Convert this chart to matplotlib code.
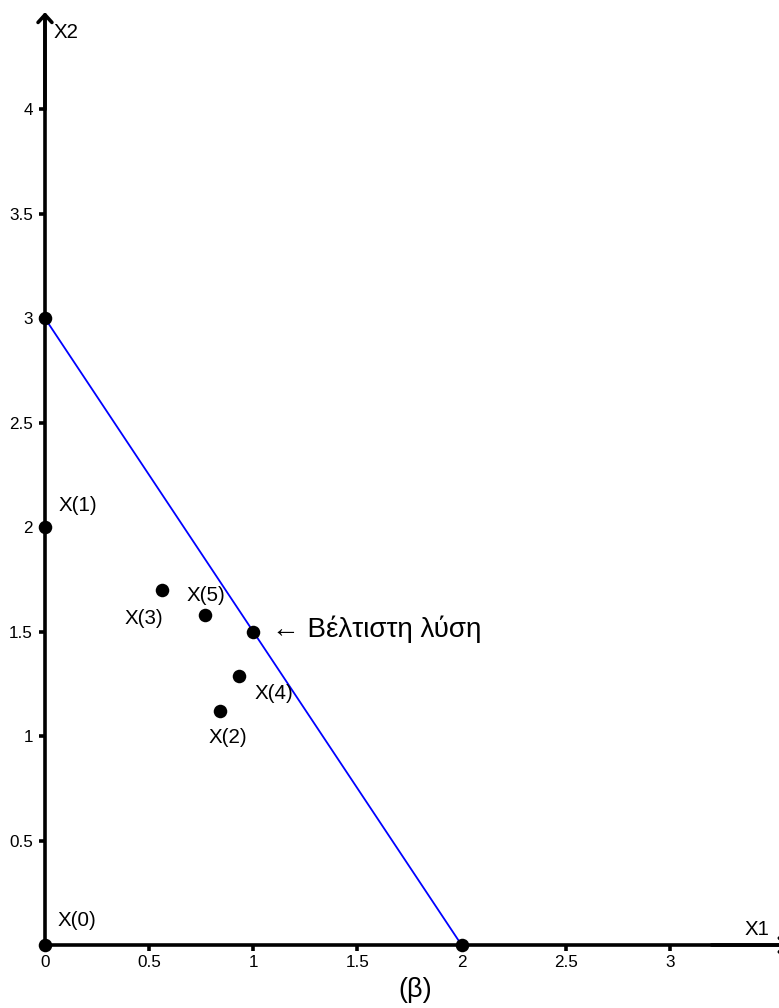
import matplotlib
matplotlib.use("Agg")
import matplotlib.pyplot as plt

plt.rcParams['font.family'] = ['Liberation Sans', 'DejaVu Sans']

# Feasible-region boundary: x1 + (2/3) x2 = 2, i.e. intercepts (2, 0) and (0, 3)
x1_intercept = 2.0
x2_intercept = 3.0

# Iterates of the algorithm
point_labels = ["X(0)", "X(1)", "X(2)", "X(3)", "X(4)", "X(5)"]
x1_vals = [0.0, 0.0, 0.84, 0.56, 0.93, 0.77]
x2_vals = [0.0, 2.0, 1.12, 1.70, 1.29, 1.58]

# Optimal solution
opt_x1 = 1.0
opt_x2 = 1.5
opt_text = "\u2190 Βέλτιστη λύση"

x_ticks = [0, 0.5, 1, 1.5, 2, 2.5, 3]
x_tick_labels = ["0", "0.5", "1", "1.5", "2", "2.5", "3"]
y_ticks = [0.5, 1, 1.5, 2, 2.5, 3, 3.5, 4]
y_tick_labels = ["0.5", "1", "1.5", "2", "2.5", "3", "3.5", "4"]

# label offsets in pixels and alignment
label_style = {
    "X(0)": ((13, 24), "left"),
    "X(1)": ((14, 22), "left"),
    "X(2)": ((-11, -26), "left"),
    "X(3)": ((2, -29), "right"),
    "X(4)": ((16, -18), "left"),
    "X(5)": ((-19, 19), "left"),
}

fig = plt.figure(figsize=(7.79, 10.08), dpi=100)
ax = fig.add_axes([0, 0, 1, 1])
ax.set_xlim(-0.216, 3.524)
ax.set_ylim(-0.3016, 4.524)
ax.set_facecolor("white")

axis_lw = 2.6
for side in ("top", "right"):
    ax.spines[side].set_visible(False)
ax.spines["left"].set_position(("data", 0))
ax.spines["bottom"].set_position(("data", 0))
ax.spines["left"].set_bounds(0, 4.44)
ax.spines["bottom"].set_bounds(0, 3.6)
ax.spines["left"].set_linewidth(axis_lw)
ax.spines["bottom"].set_linewidth(axis_lw)

ax.set_xticks(x_ticks)
ax.set_xticklabels(x_tick_labels)
ax.set_yticks(y_ticks)
ax.set_yticklabels(y_tick_labels)
ax.tick_params(axis="both", direction="out", length=4.5, width=axis_lw,
               labelsize=12.3, colors="black")
ax.tick_params(axis="x", pad=3)
ax.tick_params(axis="y", pad=4.2)

# axis arrowheads
arrow_kw = dict(arrowstyle="->,head_length=0.55,head_width=0.5", lw=axis_lw,
                color="black", shrinkA=0, shrinkB=0)
ax.annotate("", xy=(0, 4.466), xytext=(0, 4.0), arrowprops=arrow_kw,
            annotation_clip=False)
ax.annotate("", xy=(3.575, 0), xytext=(3.2, 0), arrowprops=arrow_kw,
            annotation_clip=False)

# constraint line
ax.plot([0, x1_intercept], [x2_intercept, 0], color="#0000ff", lw=1.3, zorder=3)

# vertices of the constraint and iterates
ax.scatter([0, x1_intercept], [x2_intercept, 0], s=95, color="black",
           zorder=6, clip_on=False, linewidths=0)
ax.scatter(x1_vals, x2_vals, s=95, color="black", zorder=6, clip_on=False,
           linewidths=0)
ax.scatter([opt_x1], [opt_x2], s=95, color="black", zorder=6, linewidths=0)

for lab, xv, yv in zip(point_labels, x1_vals, x2_vals):
    off, ha = label_style[lab]
    ax.annotate(lab, xy=(xv, yv), xytext=off, textcoords="offset pixels",
                ha=ha, va="center", fontsize=14.8)

ax.annotate(opt_text, xy=(opt_x1, opt_x2), xytext=(19, 2),
            textcoords="offset pixels", ha="left", va="center", fontsize=20)

ax.text(3.418, 0.072, "X1", ha="center", va="center", fontsize=14.7)
ax.text(0.043, 4.370, "X2", ha="left", va="center", fontsize=14.7)

fig.text(415 / 779, 1 - 990 / 1008, "(β)", ha="center", va="center",
         fontsize=19.5)

fig.savefig("out.png", dpi=100)
